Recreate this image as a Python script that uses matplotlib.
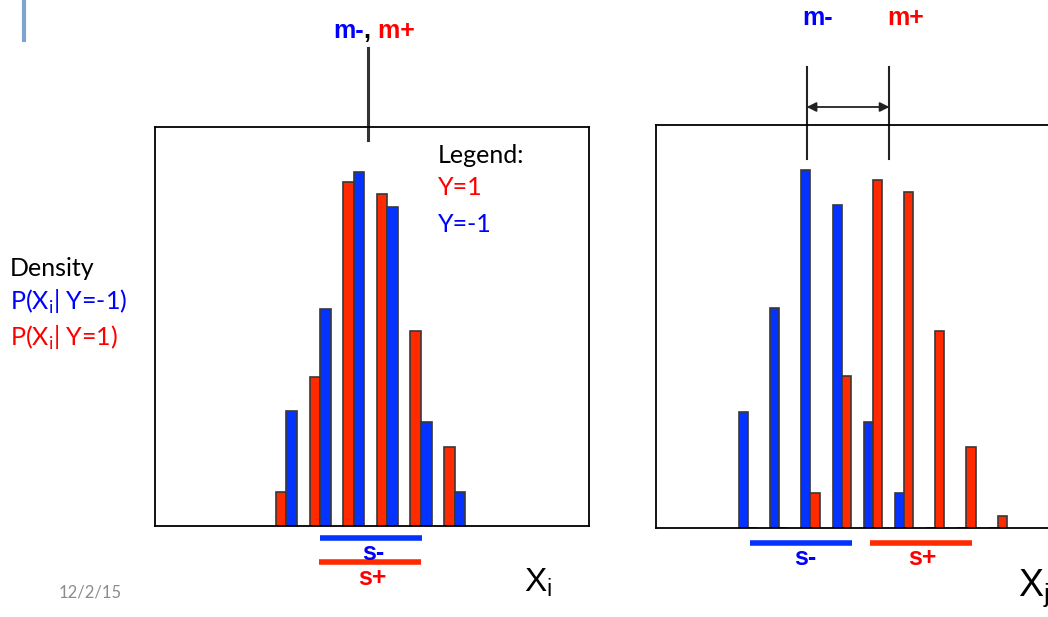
import numpy as np
import matplotlib
matplotlib.use('Agg')
import matplotlib.pyplot as plt

# %% data (bar heights are densities, bins are integer positions)
bins_i = [0, 1, 2, 3, 4, 5]
red_i = [0.034, 0.149, 0.344, 0.332, 0.195, 0.079]    # P(Xi | Y=1)
blue_i = [0.115, 0.217, 0.354, 0.319, 0.104, 0.034]   # P(Xi | Y=-1)

bins_j = [0, 1, 2, 3, 4, 5, 6, 7, 8]
blue_j = [0.116, 0.220, 0.358, 0.323, 0.106, 0.035, 0.0, 0.0, 0.0]
red_j = [0.0, 0.0, 0.035, 0.152, 0.348, 0.336, 0.197, 0.081, 0.012]

# annotation positions (data units of each panel)
m_i = 2.43
s_minus_i = (1.00, 4.03)
s_plus_i = (0.97, 4.00)
m_minus_j = 1.88
m_plus_j = 4.53
s_minus_j = (0.06, 3.33)
s_plus_j = (3.91, 7.18)

RED = '#FF2A00'
BLUE = '#0433FF'
TRED = '#FF0000'
TBLUE = '#0000FF'
EDGE = '#383838'

W, H = 1048, 617


def fx(x):
    return x / W


def fy(y):
    return 1 - y / H


fig = plt.figure(figsize=(W / 100, H / 100), dpi=100)

# %% left panel
ax1 = fig.add_axes([fx(155), fy(526), 434 / W, 399 / H])
ax1.bar(bins_i, red_i, width=-0.31, align='edge', color=RED, edgecolor=EDGE, linewidth=1.2)
ax1.bar(bins_i, blue_i, width=0.32, align='edge', color=BLUE, edgecolor=EDGE, linewidth=1.2)
ax1.set_xlim(-3.91, 9.0)
ax1.set_ylim(0, 0.399)

ax1.plot([m_i, m_i], [0.386, 0.478], color='#333333', lw=2.2, clip_on=False)
ax1.plot(s_minus_i, [-0.012, -0.012], color=BLUE, lw=4, clip_on=False, solid_capstyle='butt')
ax1.plot(s_plus_i, [-0.036, -0.036], color=RED, lw=4, clip_on=False, solid_capstyle='butt')

# %% right panel (runs off the right edge of the slide)
ax2 = fig.add_axes([fx(656), fy(528), 420 / W, 403 / H])
ax2.bar(bins_j, blue_j, width=-0.29, align='edge', color=BLUE, edgecolor=EDGE, linewidth=1.2)
ax2.bar(bins_j, red_j, width=0.29, align='edge', color=RED, edgecolor=EDGE, linewidth=1.2)
ax2.set_xlim(-2.95, 10.51)
ax2.set_ylim(0, 0.403)

for m in (m_minus_j, m_plus_j):
    ax2.plot([m, m], [0.369, 0.461], color='#222222', lw=1.5, clip_on=False)
ax2.annotate('', xy=(m_minus_j, 0.421), xytext=(m_plus_j, 0.421),
             xycoords='data', annotation_clip=False,
             arrowprops=dict(arrowstyle='<|-|>', color='#222222', lw=1.3,
                             mutation_scale=14, shrinkA=0, shrinkB=0))
ax2.plot(s_minus_j, [-0.015, -0.015], color=BLUE, lw=4, clip_on=False, solid_capstyle='butt')
ax2.plot(s_plus_j, [-0.015, -0.015], color=RED, lw=4, clip_on=False, solid_capstyle='butt')

for ax in (ax1, ax2):
    ax.set_xticks([])
    ax.set_yticks([])
    for sp in ax.spines.values():
        sp.set_color('black')
        sp.set_linewidth(1.3)

# %% texts
body = 'Lato'
fs = 18
bold = dict(family='Liberation Sans', fontweight='bold', fontsize=18)

fig.text(fx(10), fy(276), 'Density', family=body, fontsize=fs, color='black')
fig.text(fx(10), fy(310), r'P(X$_\mathregular{i}$| Y=-1)', family=body, fontsize=fs, color=TBLUE)
fig.text(fx(10), fy(346), r'P(X$_\mathregular{i}$| Y=1)', family=body, fontsize=fs, color=TRED)

fig.text(fx(438), fy(163), 'Legend:', family=body, fontsize=fs, color='black')
fig.text(fx(438), fy(195), 'Y=1', family=body, fontsize=fs, color=TRED)
fig.text(fx(438), fy(232), 'Y=-1', family=body, fontsize=fs, color=TBLUE)

# m-, m+ above the left panel
t = fig.text(fx(333), fy(38), 'm-', color=TBLUE, **bold)
t = ax1.annotate(',', xy=(1, 0), xycoords=t, va='bottom', ha='left', color='black', **bold)
ax1.annotate(' m+', xy=(1, 0), xycoords=t, va='bottom', ha='left', color=TRED, **bold)

fig.text(fx(373), fy(553), 's-', color=TBLUE, ha='center', va='center', **bold)
fig.text(fx(372), fy(578), 's+', color=TRED, ha='center', va='center', **bold)

fig.text(fx(818), fy(18), 'm-', color=TBLUE, ha='center', va='center', **bold)
fig.text(fx(906), fy(18), 'm+', color=TRED, ha='center', va='center', **bold)
fig.text(fx(805), fy(558), 's-', color=TBLUE, ha='center', va='center', **bold)
fig.text(fx(922), fy(558), 's+', color=TRED, ha='center', va='center', **bold)

fig.text(fx(524), fy(591), r'X$_\mathregular{i}$', family='Liberation Sans', fontsize=24, color='black')
fig.text(fx(1018), fy(596), r'X$_\mathregular{j}$', family='Liberation Sans', fontsize=27, color='black')

fig.text(fx(59), fy(597), '12/2/15', family=body, fontsize=12, color='#8c8c8c')

# slide decoration at the top left
fig.add_artist(plt.Line2D([fx(24), fx(24)], [fy(0), fy(40)], color='#7fa3cf', lw=3))

fig.savefig('out.png', dpi=100)
